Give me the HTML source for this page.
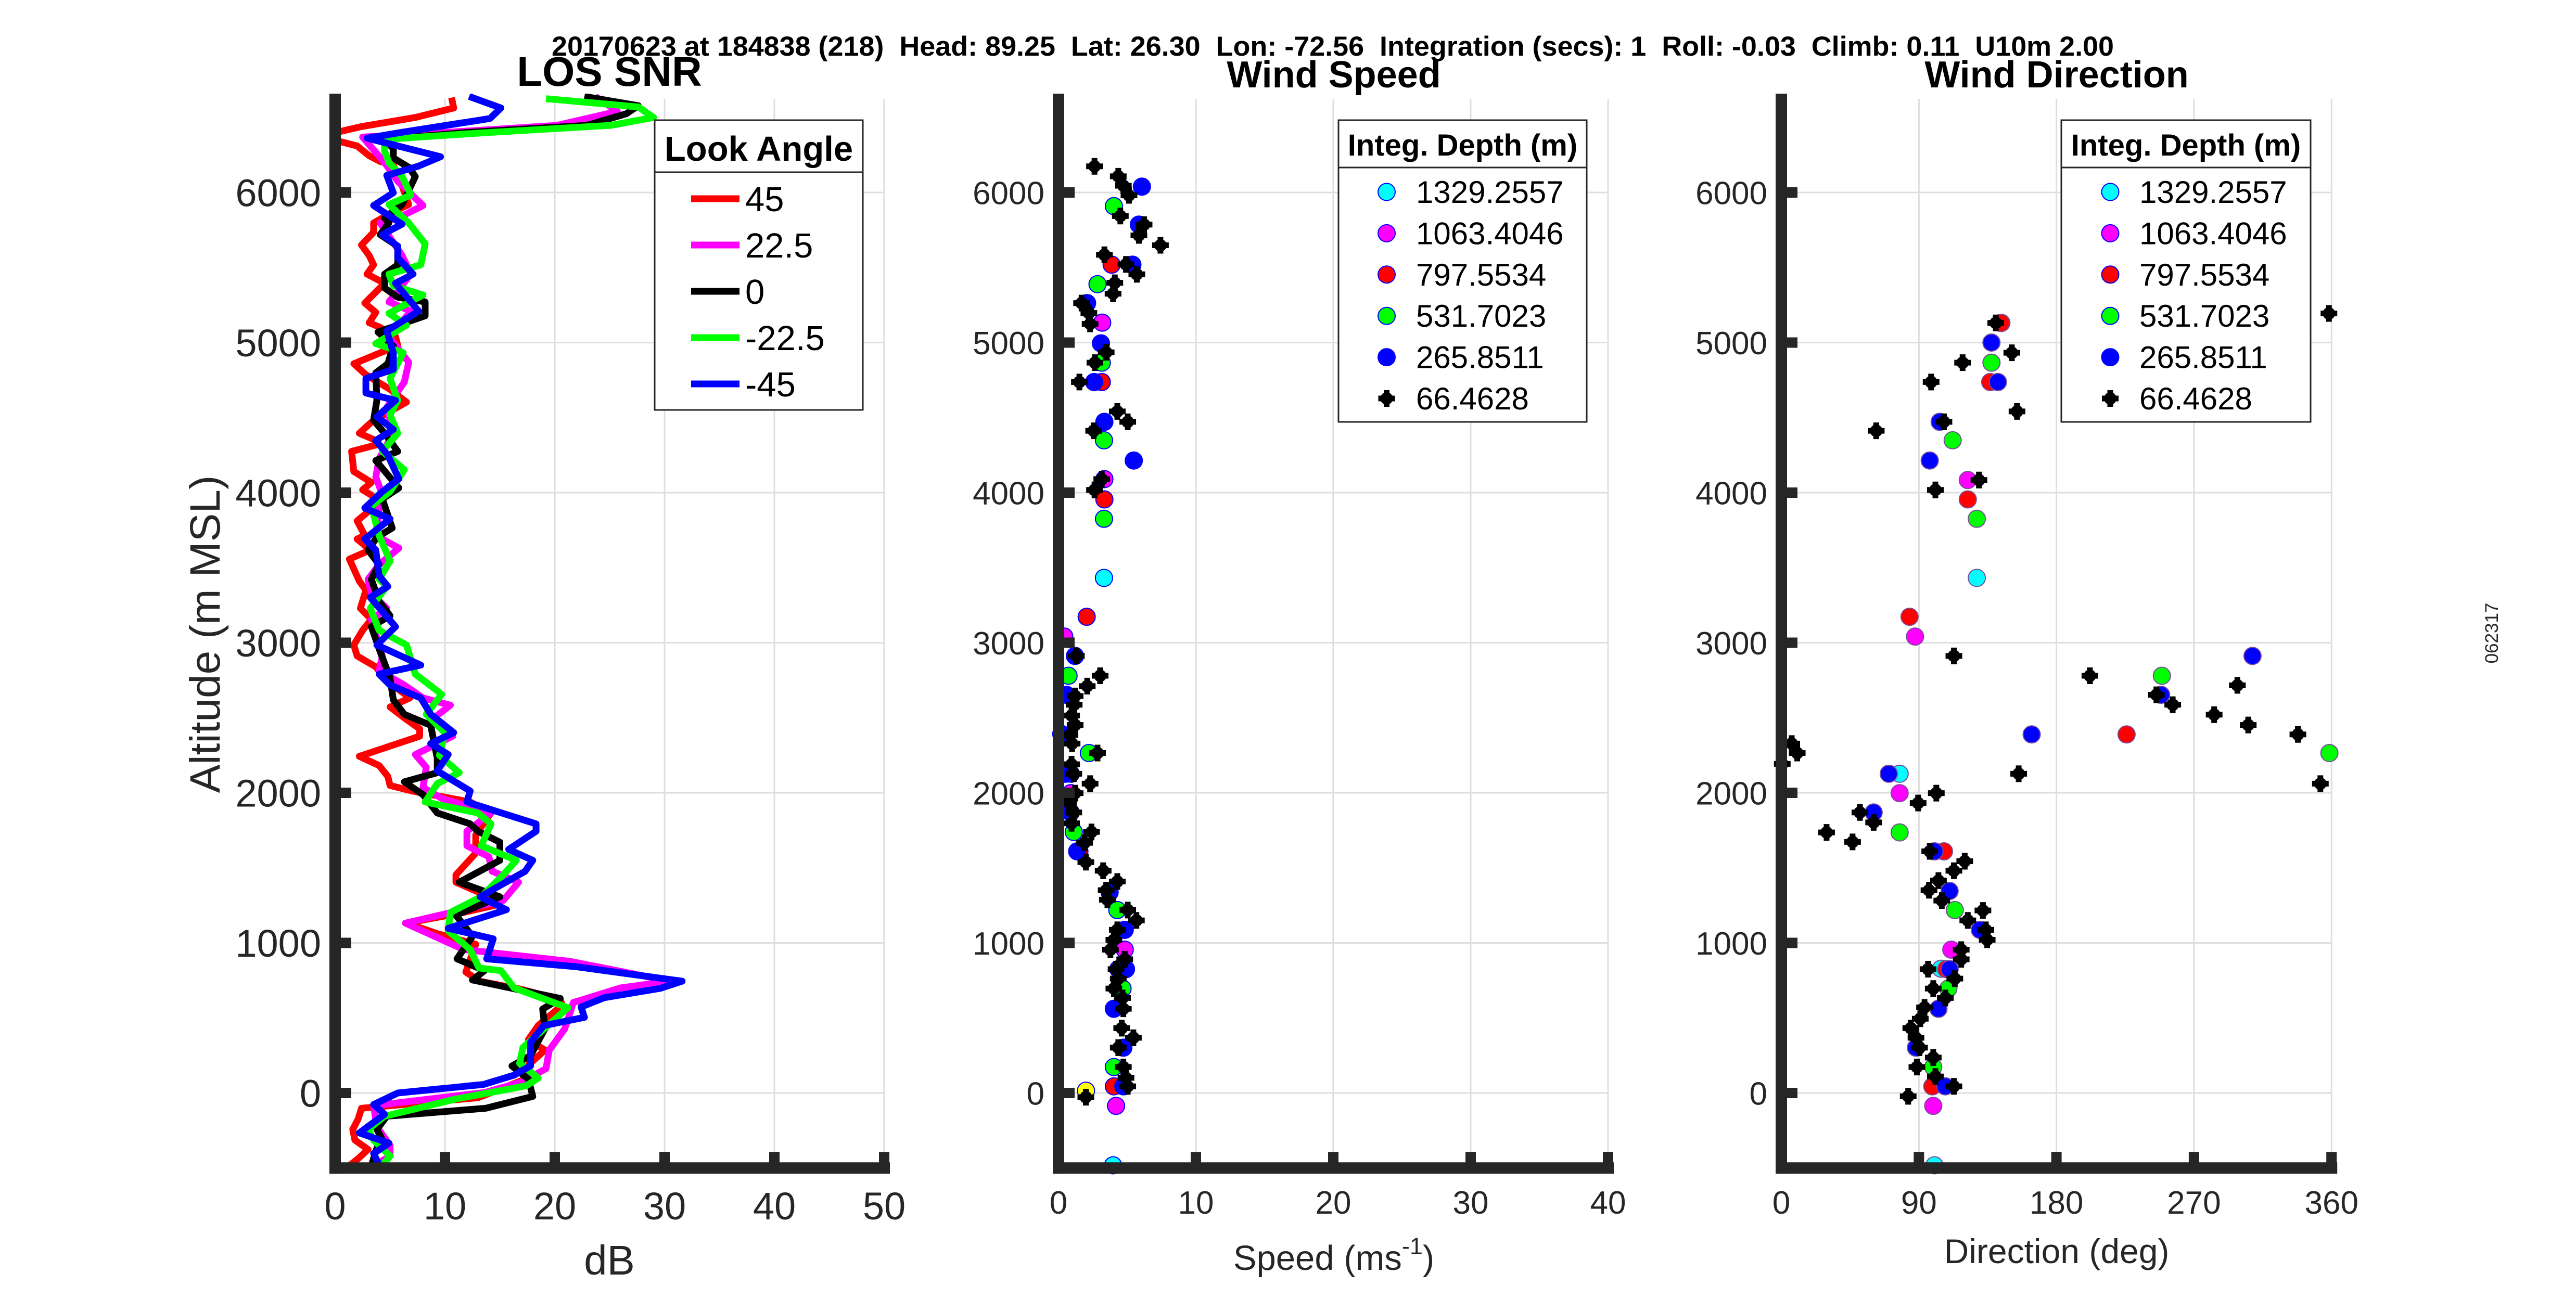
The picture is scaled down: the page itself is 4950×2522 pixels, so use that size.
<!DOCTYPE html>
<html><head><meta charset="utf-8"><title>Wind profile</title>
<style>
html,body{margin:0;padding:0;background:#fff;}
svg{display:block;font-family:"Liberation Sans",Arial,sans-serif;}
</style></head>
<body>
<svg id="fig" xmlns="http://www.w3.org/2000/svg" width="4950" height="2522" viewBox="0 0 4950 2522">
<rect x="0" y="0" width="4950" height="2522" fill="#fff"/>
<text x="1060" y="107" font-size="53" font-weight="bold" style="white-space:pre" textLength="3002" lengthAdjust="spacingAndGlyphs">20170623 at 184838 (218)  Head: 89.25  Lat: 26.30  Lon: -72.56  Integration (secs): 1  Roll: -0.03  Climb: 0.11  U10m 2.00</text>
<text x="1171" y="165" font-size="80" font-weight="bold" text-anchor="middle">LOS SNR</text>
<text x="2563" y="168" font-size="72" font-weight="bold" text-anchor="middle">Wind Speed</text>
<text x="3952" y="168" font-size="72" font-weight="bold" text-anchor="middle">Wind Direction</text>
<text transform="translate(422,1219) rotate(-90)" font-size="82" fill="#262626" text-anchor="middle">Altitude (m MSL)</text>
<text x="1171" y="2450" font-size="80" fill="#262626" text-anchor="middle">dB</text>
<text x="2563" y="2441" font-size="67" fill="#262626" text-anchor="middle">Speed (ms<tspan font-size="45" dy="-30">-1</tspan><tspan dy="30">)</tspan></text>
<text x="3952" y="2428" font-size="66" fill="#262626" text-anchor="middle">Direction (deg)</text>
<text transform="translate(4800,1217) rotate(-90)" font-size="35" fill="#262626" text-anchor="middle">062317</text>
<g id="layers"></g>
</svg>
<script>
// ---------- SNR data (altitude m, dB) ----------
const snr45Alt=[6632,6563,6500,6439,6400,6346,6310,6245,6207,6184,6044,5920,5860,5797,5735,5650,5580,5518,5456,5395,5263,5201,5132,5101,5040,4980,4859,4786,4688,4603,4542,4469,4396,4348,4323,4275,4141,4068,4019,3983,3934,3812,3715,3691,3618,3557,3411,3350,3229,3156,3083,2985,2912,2839,2766,2693,2632,2572,2499,2426,2377,2243,2182,2109,2049,2012,1939,1866,1720,1598,1453,1404,1331,1258,1200,1132,1062,991,806,744,690,620,586,450,356,286,180,92,-32,-102,-173,-243,-314,-376,-437,-490];
const snr45Db=[10.6,10.8,7.3,2.4,0.1,0.1,2,3.1,4.1,5.3,6.1,6.7,5.0,3.5,3.5,2.4,3.1,3.5,2.9,4.5,2.7,3.7,3.1,4.1,5.5,5.7,1.7,2.8,5,6.5,5,3.3,2.2,3.7,4,1.5,1.7,3.3,2.5,3.3,4,2,2.7,2,3.2,1.3,2.2,2.8,2.3,3.3,2.5,1.7,2,3.7,4.5,5.7,6.8,5,6.3,7.7,7.7,2.2,4,4.8,5,7,12.3,14.2,12.8,12.8,11,11,13.3,15,11.5,6.5,9.3,12.8,11.9,13.2,17,20.5,20.7,18.5,17.6,19.1,17.5,17.3,13,2.4,2.1,1.6,1.8,3,2.1,1.2];
const snr22Alt=[6640,6540,6447,6400,6369,6199,6075,5913,5843,5797,5580,5456,5271,5209,5039,4869,4737,4567,4396,4226,4104,4007,3715,3630,3521,3423,3326,3229,3156,2912,2815,2718,2632,2584,2499,2377,2255,2170,2036,1963,1866,1744,1647,1574,1477,1404,1282,1132,956,877,745,700,603,427,286,162,74,4,-85,-226,-349,-420,-473];
const snr22Db=[23.7,25.7,20.2,10,2.5,4.5,5.7,8,6.1,4.1,6.1,6.9,4.9,6.9,4.9,6.7,6.3,4.7,5.3,4,3.7,4.2,3.7,5.8,4,3,3.3,4.7,3.3,4.3,4,6.3,8,10.5,9,10.7,7.3,8.3,8,9.7,14.2,12,12,14,14.3,16.7,15.3,6.4,11.7,21.4,30.5,26,21.7,20.9,19.5,19.2,17,13.7,3.5,3.8,5,5,3.8];
const snr0Alt=[6640,6578,6524,6447,6400,6354,6292,6230,6168,6106,5920,5828,5797,5720,5642,5518,5456,5364,5302,5271,5178,5070,4977,4859,4798,4615,4482,4396,4275,4214,4031,3958,3764,3703,3618,3521,3423,3277,3180,3107,2961,2766,2620,2523,2450,2231,2134,2073,1988,1866,1793,1744,1671,1550,1404,1307,1185,1044,894,815,753,630,559,427,250,180,92,-23,-102,-155,-243,-296,-367,-437,-490];
const snr0Db=[22.7,27.6,26.5,22.9,12,4.5,5.3,5.3,6.7,7.3,6.1,4.5,4.9,4.1,5.7,5.7,4.5,4.5,5.7,8.2,8.2,3.9,5.3,4.8,3.7,3.8,3.5,4.5,5.7,3.7,5.8,4.3,5.2,3.8,3,4,3.3,4,5,3.3,4,5,5.3,6.3,8.7,9.3,9.3,6.3,8,9.3,12.3,13,15,15,11.3,15,11,12.5,11.1,13.6,12.5,20.5,18.9,19.1,17.8,16.1,17.6,18,13.7,4.7,3.8,4.2,3.8,3.5,3.3];
const snrM22Alt=[6625,6570,6500,6447,6400,6354,6276,6199,6106,5983,5920,5797,5658,5518,5456,5379,5317,5194,5116,4993,4932,4761,4615,4518,4396,4275,4153,4007,3910,3715,3545,3423,3375,3229,3083,2985,2791,2657,2523,2400,2250,2134,2061,1939,1866,1793,1647,1550,1453,1307,1203,1080,956,833,815,700,568,303,198,100,48,-40,-155,-243,-314,-420,-499];
const snrM22Db=[19.2,27.6,29,25.1,14,4.5,4.5,4.9,6.1,6.9,4.9,6.7,8.2,7.8,4.9,5.3,8,4.9,6.5,3.7,6.2,5,5.7,5,5.7,4.3,6.3,5,3.3,4,5,4,4.7,3.2,4,6.5,7.3,9.7,8.3,10,9.5,11.3,9.3,8.2,13,14.2,13.3,16.5,15.3,13.3,10.5,10.3,12.3,13.1,15.1,16.3,21.2,17.1,16.8,18.5,17.4,11,4.5,3,3.5,5,4.1];
const snrM45Alt=[6640,6563,6493,6400,6362,6238,6176,6114,5998,5913,5789,5720,5642,5565,5456,5395,5209,5078,4932,4822,4761,4664,4615,4506,4421,4348,4250,4092,4007,3898,3825,3691,3618,3447,3375,3302,3107,2985,2851,2791,2718,2632,2523,2401,2328,2255,2146,2012,1939,1793,1744,1623,1550,1477,1307,1221,1097,1027,894,841,745,697,635,573,504,449,339,181,119,57,0,-77,-142,-266,-334,-403,-493];
const snrM45Db=[12.2,15.1,14.1,6,2.9,9.6,7.6,4.7,5.3,3.5,6.1,4.3,5.7,5.7,7.1,5.5,7.6,4.7,5.3,5.3,2.8,2.8,5.5,3.8,5.3,3.7,4.8,5.8,4.3,2.7,5,2.7,3.7,4,4.8,3.2,5.5,3.8,7.8,4,5,7.8,8.7,10.8,8.7,10.3,9.3,12.3,12,18.3,18.3,15.8,18,17.3,13.2,15.6,10.3,14.4,13.8,22,31.6,29.6,24.5,22.4,22.7,19,17.8,17.8,16.3,13.5,5.7,3.5,4.5,2.2,4.9,3.5,4.1];
const snrLabels=["45","22.5","0","-22.5","-45"];

// ---------- Wind speed data ----------
const spdCyanAlt=[3432,2127,828,-482];
const spdCyanVal=[3.31,0.9,4.5,3.97];
const spdMagAlt=[5133,4090,3041,1998,955,-86];
const spdMagVal=[3.18,3.34,0.42,0.89,4.82,4.19];
const spdRedAlt=[5519,4737,3955,3173,2392,1610,825,44];
const spdRedVal=[3.87,3.15,3.34,2.05,0.2,1.52,4.35,4.03];
const spdGreenAlt=[5909,5389,4866,4349,3826,2780,2265,1739,1219,696,173];
const spdGreenVal=[4.03,2.84,3.15,3.31,3.31,0.73,2.21,1.11,4.28,4.66,4.03];
const spdBlueAlt=[6039,5786,5519,5263,4995,4737,4472,4214,2912,2653,2386,2127,1869,1610,1337,1087,825,561,302,44];
const spdBlueVal=[6.07,5.85,5.38,2.08,3.09,2.59,3.34,5.48,1.2,0.58,0.33,0.51,0.89,1.36,3.72,4.82,4.91,4.03,4.72,4.72];
const spdBlackAlt=[6174,6108,6045,5981,5843,5786,5714,5648,5585,5521,5455,5398,5326,5263,5197,5125,4935,4866,4737,4541,4472,4412,4090,4018,2912,2780,2711,2645,2587,2515,2452,2386,2328,2265,2190,2127,2061,1998,1940,1869,1797,1739,1667,1538,1481,1409,1351,1288,1219,1150,1087,1021,955,891,825,762,696,633,561,432,368,302,173,101,44,-28];
const spdBlackVal=[2.62,4.35,4.72,5.13,4.5,6.23,5.85,7.42,3.34,4.91,5.7,4.1,3.97,1.68,2.21,2.3,3.47,2.65,1.52,4.28,5.04,2.56,3.15,2.62,1.3,3.03,2.09,1.21,1.14,0.95,1.21,0.83,0.99,2.84,0.95,1.11,2.3,1.21,0.73,1.11,0.95,2.4,1.9,1.99,3.25,4.28,3.47,3.56,5.04,5.67,4.28,4.03,3.78,4.82,4.19,4.35,4.03,4.66,4.72,4.6,5.45,4.35,4.72,4.91,5.04,1.99];
const spdSurfaceAlt=[15];
const spdSurfaceVal=[2.0];

// ---------- Wind direction data ----------
const dirCyanAlt=[3432,2127,828,-482];
const dirCyanVal=[127.9,77.4,104.5,100.2];
const dirMagAlt=[5131,4084,3041,1998,955,-86];
const dirMagVal=[144,122,87.5,77.4,111.2,99.4];
const dirRedAlt=[5131,4737,3955,3173,2389,1610,825,44];
const dirRedVal=[143.7,136.7,122,83.9,225.9,106.4,107.9,98.8];
const dirGreenAlt=[4866,4349,3826,2780,2265,1736,1219,696,173];
const dirGreenVal=[137.5,112.1,127.9,249,358.6,77.4,113.5,109.3,99.4];
const dirBlueAlt=[5000,4737,4472,4214,2912,2653,2389,2127,1869,1610,1346,1087,825,561,302,44];
const dirBlueVal=[137.5,141.7,103.6,97.1,308.3,248.5,163.8,70.3,60.4,100.2,110.1,129.9,110.1,102.8,88.1,107.3];
const dirBlackAlt=[5131,4932,4866,4737,5194,4472,4541,4412,4084,4018,2912,2780,2653,2587,2521,2716,2452,2389,2061,2127,2328,2265,2193,1998,1932,1869,1803,1736,1673,1610,1544,1481,1415,1351,1282,1216,1150,1087,1021,955,891,825,762,696,633,570,495,432,368,302,236,173,110,44,-22];
const dirBlackVal=[140.3,150.8,118.6,98,358.3,106.4,154.2,62.1,129.3,100.8,112.9,201.9,245.4,256.1,283.2,298.4,305.5,338,352.7,155.3,6.8,10.4,0.6,101.4,89.5,51.4,60.4,29.6,46.6,97.1,120,112.9,102.8,96.6,105,131.9,122,133.8,134.7,117.7,117.7,96,113.5,99.4,107.3,93.7,90.9,84.7,88.1,90.4,99.4,88.7,100.8,112.9,83];

const depthLabels=["1329.2557","1063.4046","797.5534","531.7023","265.8511","66.4628"];
const altTicks=[0,1000,2000,3000,4000,5000,6000];
const snrTicks=[0,10,20,30,40,50];
const spdTicks=[0,10,20,30,40];
const dirTicks=[0,90,180,270,360];

// ---------- layout / scales ----------
const NS="http://www.w3.org/2000/svg";
const AX="#262626";
const Y0=2101, YS=0.2885, YTOP=180, ALTMIN=-500;
function yAlt(a){return Y0-YS*a;}
const P1={x0:644,xs:21.1,max:50,ticks:snrTicks,tf:74,tb:2344,name:"snr"};
const P2={x0:2034,xs:26.4,max:40,ticks:spdTicks,tf:62,tb:2333,name:"speed"};
const P3={x0:3423,xs:2.9367,max:360,ticks:dirTicks,tf:62,tb:2333,name:"direction"};
function xOf(p,v){return p.x0+p.xs*v;}
const root=document.getElementById('layers');
function mk(tag,attrs,parent){const e=document.createElementNS(NS,tag);for(const k in attrs)e.setAttribute(k,attrs[k]);(parent||root).appendChild(e);return e;}

function drawGrid(p){
  const g=mk('g',{});
  
  
  const yb=yAlt(ALTMIN);
  p.ticks.forEach(t=>{ if(t===0)return;
    const l=mk('line',{x1:xOf(p,t),x2:xOf(p,t),y1:190,y2:yb,stroke:'#dedede','stroke-width':3},g);
    
    
  });
  altTicks.forEach(t=>{
    const l=mk('line',{x1:p.x0,x2:xOf(p,p.max),y1:yAlt(t),y2:yAlt(t),stroke:'#dedede','stroke-width':3},g);
    
    
  });
}
function drawAxes(p){
  const g=mk('g',{fill:AX});
  
  
  const yb=yAlt(ALTMIN), xr=xOf(p,p.max);
  const ya=mk('rect',{x:p.x0-11,y:YTOP,width:22,height:yb-YTOP+11},g);
  
  
  const xa=mk('rect',{x:p.x0-11,y:yb-11,width:xr-p.x0+22,height:22},g);
  
  
  altTicks.forEach(t=>{
    const r=mk('rect',{x:p.x0+11,y:yAlt(t)-10,width:20,height:20},g);
    
    
    const tx=mk('text',{x:p.x0-27,y:yAlt(t)+p.tf*0.36,'font-size':p.tf,'text-anchor':'end'},g);
    
    
    tx.textContent=String(t);
  });
  p.ticks.forEach(t=>{
    const x=xOf(p,t);
    if(t!==0){const r=mk('rect',{x:x-10,y:yb-31,width:20,height:22},g);
      
      }
    const tx=mk('text',{x:x,y:p.tb,'font-size':p.tf,'text-anchor':'middle'},g);
    
    
    tx.textContent=String(t);
  });
}

[P1,P2,P3].forEach(drawGrid);

const defs=mk('defs',{});
const cp=mk('clipPath',{id:'clip1'},defs);
mk('rect',{x:P1.x0,y:YTOP,width:P1.xs*P1.max,height:yAlt(ALTMIN)-YTOP},cp);

const snrSeries=[[snr45Alt,snr45Db,'#ff0000'],[snr22Alt,snr22Db,'#ff00ff'],[snr0Alt,snr0Db,'#000000'],[snrM22Alt,snrM22Db,'#00ff00'],[snrM45Alt,snrM45Db,'#0000ff']];
const lg=mk('g',{'clip-path':'url(#clip1)'});


snrSeries.forEach((s,i)=>{
  const pts=s[0].map((a,j)=>xOf(P1,s[1][j]).toFixed(1)+','+yAlt(a).toFixed(1)).join(' ');
  const pl=mk('polyline',{points:pts,fill:'none',stroke:s[2],'stroke-width':13,'stroke-linejoin':'round','stroke-linecap':'butt'},lg);
  
  
});

function circle(p,v,a,fill,edge,parent,name){
  const c=mk('circle',{cx:xOf(p,v),cy:yAlt(a),r:16.5,fill:fill,stroke:edge,'stroke-width':2},parent);
  
  
}
function plus(p,v,a,parent,name){
  const x=xOf(p,v),y=yAlt(a);
  const g=mk('g',{},parent);
  
  
  mk('circle',{cx:x,cy:y,r:12,fill:'#000'},g);
  mk('path',{d:`M${x-16},${y}H${x+16}M${x},${y-16}V${y+16}`,stroke:'#000','stroke-width':11},g);
}
function scatter(p,sets,black,edge){
  const g=mk('g',{});
  
  
  sets.forEach(s=>{s[0].forEach((a,j)=>circle(p,s[1][j],a,s[2],edge||s[2],g,p.name+'-point-'+s[3]));});
  black[0].forEach((a,j)=>plus(p,black[1][j],a,g,p.name+'-point-66m'));
}
scatter(P2,[[spdCyanAlt,spdCyanVal,'#00ffff','cyan'],[spdMagAlt,spdMagVal,'#ff00ff','1063m'],[spdRedAlt,spdRedVal,'#ff0000','797m'],[spdGreenAlt,spdGreenVal,'#00ff00','531m'],[spdBlueAlt,spdBlueVal,'#0000ff','265m'],[spdSurfaceAlt,spdSurfaceVal,'#ffff00','surface']],[spdBlackAlt,spdBlackVal],'#0000ff');
scatter(P3,[[dirCyanAlt,dirCyanVal,'#00ffff','cyan'],[dirMagAlt,dirMagVal,'#ff00ff','1063m'],[dirRedAlt,dirRedVal,'#ff0000','797m'],[dirGreenAlt,dirGreenVal,'#00ff00','531m'],[dirBlueAlt,dirBlueVal,'#0000ff','265m']],[dirBlackAlt,dirBlackVal],'#7a4a9a');

[P1,P2,P3].forEach(drawAxes);

// ---------- legends ----------
(function(){
  const g=mk('g',{});
  
  
  mk('rect',{x:1258,y:231,width:400,height:557,fill:'#fff',stroke:AX,'stroke-width':3},g);
  mk('line',{x1:1258,x2:1658,y1:331,y2:331,stroke:AX,'stroke-width':3},g);
  const t=mk('text',{x:1458,y:309,'font-size':67,'font-weight':'bold','text-anchor':'middle'},g);
  
  
  t.textContent='Look Angle';
  snrSeries.forEach((s,i)=>{
    const y=382+i*89;
    const e=mk('g',{},g);
    
    
    mk('rect',{x:1328,y:y-6.5,width:93,height:13,fill:s[2]},e);
    const tx=mk('text',{x:1432,y:y+24,'font-size':67},e);
    tx.textContent=snrLabels[i];
  });
})();
function depthLegend(x1,x2,mx,tx,name){
  const cols=['#00ffff','#ff00ff','#ff0000','#00ff00','#0000ff','#000'];
  const g=mk('g',{});
  
  
  mk('rect',{x:x1,y:231,width:x2-x1,height:580,fill:'#fff',stroke:AX,'stroke-width':3},g);
  mk('line',{x1:x1,x2:x2,y1:322,y2:322,stroke:AX,'stroke-width':3},g);
  const t=mk('text',{x:(x1+x2)/2,y:299,'font-size':58,'font-weight':'bold','text-anchor':'middle'},g);
  
  
  t.textContent='Integ. Depth (m)';
  depthLabels.forEach((lab,i)=>{
    const y=369+i*79.4;
    const e=mk('g',{},g);
    
    
    if(i<5) mk('circle',{cx:mx,cy:y,r:16.5,fill:cols[i],stroke:'#0000ff','stroke-width':2},e);
    else { mk('circle',{cx:mx,cy:y,r:12,fill:'#000'},e); mk('path',{d:`M${mx-16},${y}H${mx+16}M${mx},${y-16}V${y+16}`,stroke:'#000','stroke-width':11},e); }
    const tt=mk('text',{x:tx,y:y+21,'font-size':60},e);
    tt.textContent=lab;
  });
}
depthLegend(2572,3049,2664.5,2721,'speed-legend');
depthLegend(3961,4440,4055,4111,'direction-legend');
</script>
</body></html>
